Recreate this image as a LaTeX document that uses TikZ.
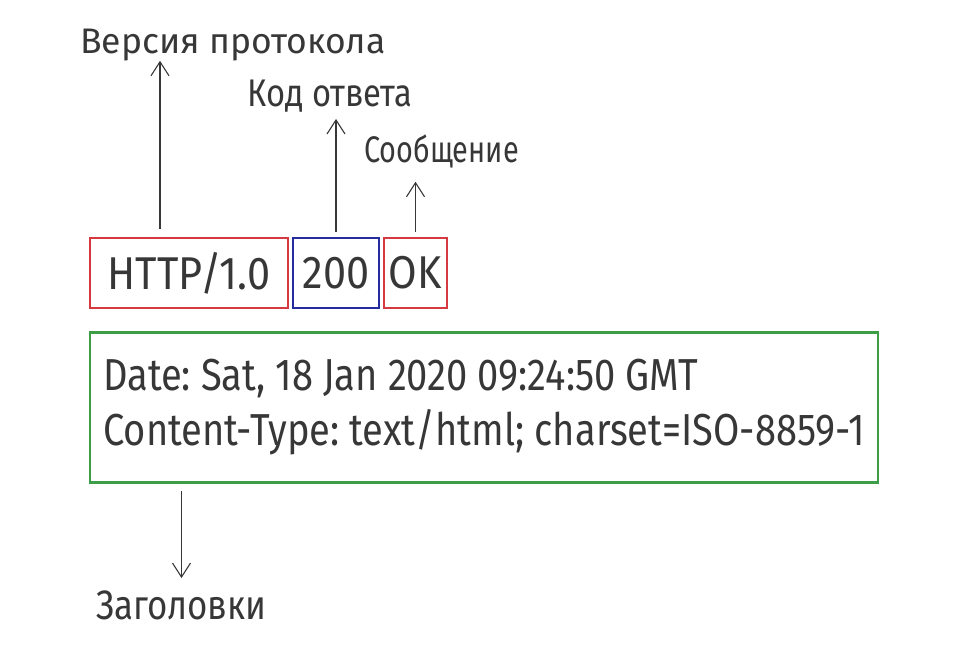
\documentclass[tikz,border=0pt]{standalone}
\usepackage{fontspec}
\setmainfont[FakeStretch=0.85]{Fira Sans}
\newfontfamily\narrowfont[FakeStretch=0.78]{Fira Sans}
\newfontfamily\partfont[FakeStretch=0.9]{Fira Sans}
\newfontfamily\widefont{Fira Sans}
\usetikzlibrary{positioning,arrows.meta}
\definecolor{boxred}{RGB}{214,58,64}
\definecolor{boxblue}{RGB}{36,44,160}
\definecolor{boxgreen}{RGB}{62,158,72}
\definecolor{ink}{RGB}{55,55,55}
\frenchspacing
\tikzset{
        % Boxes round the parts of the status line
        part_box/.style={draw, line width=2.6pt, minimum height=70pt, inner sep=0pt, text=ink, font=\partfont\fontsize{46}{50}\selectfont},
        % Box round the headers
        header_box/.style={draw=boxgreen, line width=2.6pt, text=ink, align=left, minimum width=788pt, minimum height=150pt, font=\fontsize{44.8}{55}\selectfont},
        % Captions
        caption/.style={text=ink, inner sep=0pt, anchor=base},
        % Pointers
        pointer/.style={draw=ink, line width=1.1pt, -{Straight Barb[length=14pt,width=18pt]}}
}

\begin{document}
\begin{tikzpicture}[x=1pt, y=-1pt]
    \useasboundingbox (0,0) rectangle (958,645);
    \node[part_box, draw=boxred, minimum width=198pt] (version) at (189,273) {HTTP/1.0};
    \node[part_box, draw=boxblue, minimum width=86pt] (code) at (336,273) {200};
    \node[part_box, draw=boxred, minimum width=63pt] (reason) at (415.5,273) {OK};
    \node[header_box] (headers) at (484,407.5) {Date: Sat, 18 Jan 2020 09:24:50 GMT\\Content-Type: text/html; charset=ISO-8859-1};

    \node[caption, anchor=base west, font=\widefont\fontsize{35.5}{38}\selectfont] (version_label) at (80,53) {Версия протокола};
    \node[caption, font=\fontsize{38.5}{42}\selectfont] (code_label) at (330,106) {Код ответа};
    \node[caption, font=\narrowfont\fontsize{37}{40}\selectfont] (reason_label) at (441.5,162) {Сообщение};
    \node[caption, font=\fontsize{41}{44}\selectfont] (headers_label) at (181.5,619) {Заголовки};

    \draw[pointer] ([xshift=-29pt, yshift=8pt]version.north) -- ([xshift=-29pt]version.north |- version_label.south);
    \draw[pointer, shorten >=7pt] ([yshift=5pt]code.north) -- (code.north |- code_label.south);
    \draw[pointer, shorten >=14pt] ([yshift=5pt]reason.north) -- (reason.north |- reason_label.south);
    \draw[pointer, shorten >=12pt] ([yshift=-7pt]headers.south -| headers_label.north) -- (headers_label.north);
\end{tikzpicture}
\end{document}
